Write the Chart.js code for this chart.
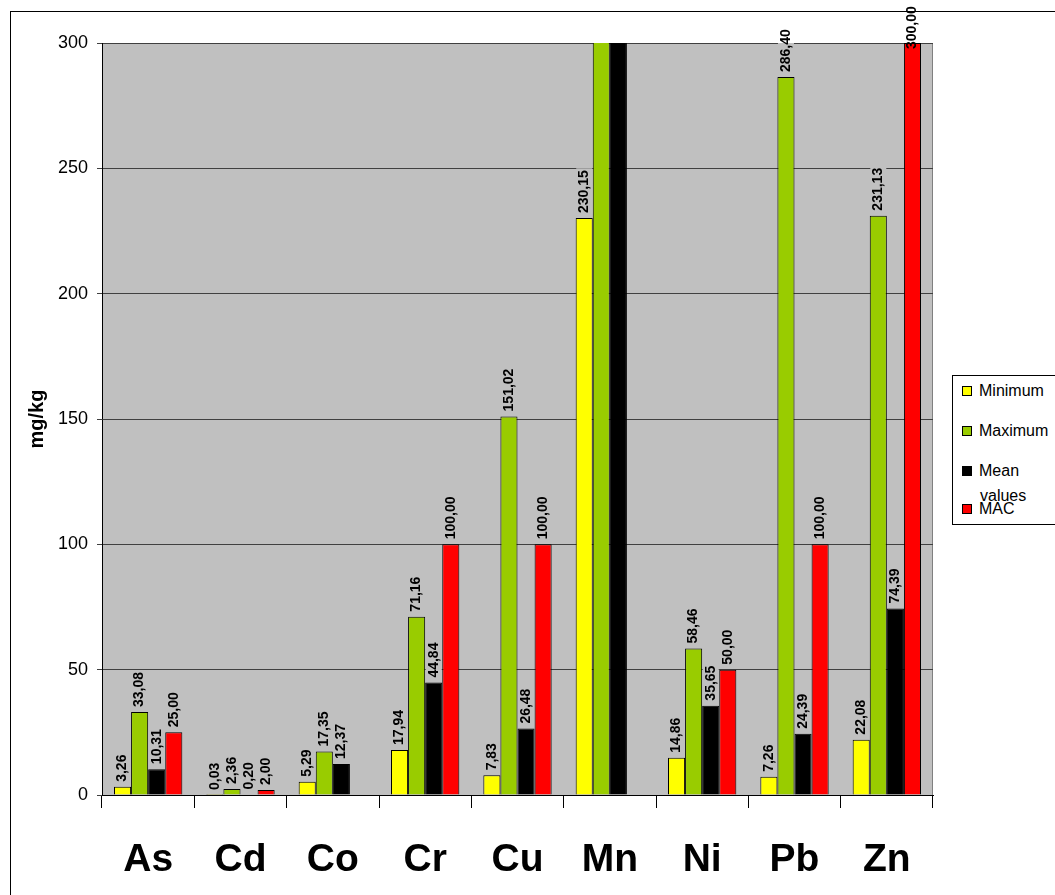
<!DOCTYPE html>
<html>
<head>
<meta charset="utf-8">
<script src="https://cdn.jsdelivr.net/npm/chart.js@4.4.0/dist/chart.umd.min.js"></script>
<style>
html, body { margin:0; padding:0; background:#fff; overflow:hidden; }
#wrap { position:relative; width:1055px; height:895px; }
#frame { position:absolute; left:10px; top:11px; width:1100px; height:1000px; border:1px solid #000; box-sizing:border-box; pointer-events:none; }
#legend { position:absolute; left:952px; top:375px; width:130px; height:148px; border:1px solid #000; background:#fff; font-family:Arial, "Liberation Sans", sans-serif; font-size:16px; color:#000; }
#legend .item { position:absolute; left:9px; line-height:18px; white-space:nowrap; }
#legend .sw { display:inline-block; width:8px; height:8px; border:1px solid #000; margin-right:7px; vertical-align:0px; }
#legend .wrap2 { position:absolute; left:27px; line-height:18px; }
</style>
</head>
<body>
<div id="wrap">
    <canvas id="chart" width="1055" height="895"></canvas>
    <div id="frame"></div>
    <div id="legend"></div>
</div>
<script>
// ---------------- Data ----------------
const categories = ["As", "Cd", "Co", "Cr", "Cu", "Mn", "Ni", "Pb", "Zn"];

const minimumValues = [3.26, 0.03, 5.29, 17.94, 7.83, 230.15, 14.86, 7.26, 22.08];
const maximumValues = [33.08, 2.36, 17.35, 71.16, 151.02, 620, 58.46, 286.40, 231.13];
const meanValues    = [10.31, 0.20, 12.37, 44.84, 26.48, 450, 35.65, 24.39, 74.39];
const macValues     = [25.00, 2.00, null, 100.00, 100.00, null, 50.00, 100.00, 300.00];

const seriesNames  = ["Minimum", "Maximum", "Mean values", "MAC"];
const seriesColors = ["#FFFF00", "#99CC00", "#000000", "#FF0000"];

const yTicks = [0, 50, 100, 150, 200, 250, 300];

const FONT = "Arial, 'Liberation Sans', sans-serif";


// ---------------- Plugins ----------------
const plotBackground = {
    id: "plotBackground",
    beforeDraw(chart) {
        const a = chart.chartArea;
        const ctx = chart.ctx;
        ctx.save();
        ctx.fillStyle = "#C0C0C0";
        ctx.fillRect(a.left, a.top, a.right - a.left, a.bottom - a.top);
        ctx.strokeStyle = "#808080";
        ctx.lineWidth = 1;
        ctx.beginPath();
        ctx.moveTo(a.left, a.top + 0.5);
        ctx.lineTo(a.right - 0.5, a.top + 0.5);
        ctx.lineTo(a.right - 0.5, a.bottom);
        ctx.stroke();
        ctx.restore();
    }
};

const barLabels = {
    id: "barLabels",
    afterDatasetsDraw(chart) {
        const ctx = chart.ctx;
        const a = chart.chartArea;
        const max = chart.scales.y.max;
        const items = [];
        chart.data.datasets.forEach((ds, i) => {
            chart.getDatasetMeta(i).data.forEach((bar, j) => {
                const v = ds.data[j];
                if (v === null || v > max) return;
                const text = v.toFixed(2).replace(".", ",");
                const atTop = v === max;
                items.push({ x: bar.x, y: atTop ? bar.y + 6 : bar.y - 5, text, box: !atTop });
            });
        });
        ctx.save();
        ctx.font = "bold 14px " + FONT;
        // grey boxes behind labels hide the gridlines
        ctx.save();
        ctx.beginPath();
        ctx.rect(a.left, a.top, a.right - a.left, a.bottom - a.top);
        ctx.clip();
        ctx.fillStyle = "#C0C0C0";
        items.forEach(it => {
            if (!it.box) return;
            const w = ctx.measureText(it.text).width;
            ctx.fillRect(it.x - 8, it.y - w - 2, 16, w + 3);
        });
        ctx.restore();
        ctx.fillStyle = "#000";
        ctx.textAlign = "left";
        ctx.textBaseline = "middle";
        items.forEach(it => {
            ctx.save();
            ctx.translate(it.x, it.y);
            ctx.rotate(-Math.PI / 2);
            ctx.fillText(it.text, 0, 0);
            ctx.restore();
        });
        ctx.restore();
    }
};


// ---------------- Chart ----------------
const allSeries = [minimumValues, maximumValues, meanValues, macValues];

new Chart(document.getElementById("chart"), {
    type: "bar",
    data: {
        labels: categories,
        datasets: allSeries.map((values, i) => ({
            label: seriesNames[i],
            data: values,
            backgroundColor: seriesColors[i],
            borderColor: "#000",
            borderWidth: 1,
            barPercentage: 1,
            categoryPercentage: 0.74
        }))
    },
    options: {
        responsive: false,
        animation: false,
        layout: { padding: { left: 10, right: 122, top: 43, bottom: 0 } },
        plugins: {
            legend: { display: false },
            tooltip: { enabled: false }
        },
        scales: {
            x: {
                grid: {
                    drawOnChartArea: false,
                    drawTicks: true,
                    tickLength: 13,
                    color: "#000",
                    offset: true
                },
                border: { color: "#000" },
                ticks: {
                    color: "#000",
                    padding: 29,
                    font: { family: FONT, size: 39, weight: "bold" }
                },
                afterFit(scale) { scale.height = 100; }
            },
            y: {
                min: 0,
                max: 300,
                afterBuildTicks(scale) { scale.ticks = yTicks.map(v => ({ value: v })); },
                grid: { color: "#404040", tickLength: 5, drawTicks: true },
                border: { color: "#000" },
                ticks: {
                    color: "#000",
                    padding: 9,
                    font: { family: FONT, size: 18 }
                },
                title: {
                    display: true,
                    text: "mg/kg",
                    color: "#000",
                    padding: { top: 15, bottom: 0 },
                    font: { family: FONT, size: 20, weight: "bold" }
                },
                afterFit(scale) { scale.width = 92; }
            }
        }
    },
    plugins: [plotBackground, barLabels]
});


// ---------------- Legend ----------------
const legend = document.getElementById("legend");
const legendTops = [6, 46, 86, 124];
seriesNames.forEach((name, i) => {
    const item = document.createElement("div");
    item.className = "item";
    item.style.top = legendTops[i] + "px";
    const words = name.split(" ");
    item.innerHTML = `<span class="sw" style="background:${seriesColors[i]}"></span>${words[0]}`;
    legend.appendChild(item);
    if (words.length > 1) {
        const rest = document.createElement("div");
        rest.className = "wrap2";
        rest.style.top = (legendTops[i] + 25) + "px";
        rest.textContent = words.slice(1).join(" ");
        legend.appendChild(rest);
    }
});
</script>
</body>
</html>
